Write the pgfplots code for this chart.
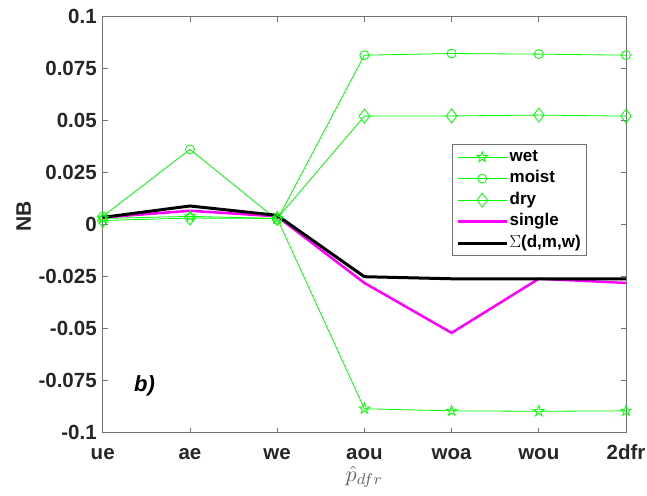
\documentclass[border=0pt]{standalone}
\usepackage{graphicx}
\usepackage{fontspec}
\setmainfont{Liberation Sans}
\usepackage{pgfplots}
\pgfplotsset{compat=1.18}
\definecolor{mgreen}{rgb}{0,1,0}
\definecolor{mmag}{rgb}{1,0,1}
\definecolor{axgray}{gray}{0.45}
\definecolor{lblgray}{gray}{0.15}
\definecolor{xlgray}{gray}{0.4}
\pgfdeclareplotmark{pstar}{%
  \pgfpathmoveto{\pgfpointpolar{90}{\pgfplotmarksize}}%
  \pgfpathlineto{\pgfpointpolar{126}{0.382\pgfplotmarksize}}%
  \pgfpathlineto{\pgfpointpolar{162}{\pgfplotmarksize}}%
  \pgfpathlineto{\pgfpointpolar{198}{0.382\pgfplotmarksize}}%
  \pgfpathlineto{\pgfpointpolar{234}{\pgfplotmarksize}}%
  \pgfpathlineto{\pgfpointpolar{270}{0.382\pgfplotmarksize}}%
  \pgfpathlineto{\pgfpointpolar{306}{\pgfplotmarksize}}%
  \pgfpathlineto{\pgfpointpolar{342}{0.382\pgfplotmarksize}}%
  \pgfpathlineto{\pgfpointpolar{18}{\pgfplotmarksize}}%
  \pgfpathlineto{\pgfpointpolar{54}{0.382\pgfplotmarksize}}%
  \pgfpathclose
  \pgfusepathqstroke
}
\begin{document}
\begin{tikzpicture}
\begin{axis}[
  at={(0,0)}, anchor=south west,
  scale only axis, width=523.3pt, height=416pt,
  xmin=0, xmax=6, ymin=-0.1, ymax=0.1,
  xtick={0,1,2,3,4,5,6},
  xticklabels={ue,ae,we,aou,woa,wou,2dfr},
  ytick={-0.1,-0.075,-0.05,-0.025,0,0.025,0.05,0.075,0.1},
  yticklabels={-0.1,-0.075,-0.05,-0.025,0,0.025,0.05,0.075,0.1},
  scaled y ticks=false,
  tick align=inside, major tick length=5pt, tick pos=both,
  axis line style={axgray, line width=0.8pt},
  tick style={axgray, line width=0.8pt},
  ticklabel style={font=\fontsize{20.5}{22}\selectfont\bfseries, text=lblgray},
  yticklabel style={xshift=-2.5pt},
  xticklabel style={anchor=base, yshift=-26.5pt, inner sep=1pt},
  xlabel={\scalebox{2.2}{$\hat{p}_{dfr}$}},
  xlabel style={at={(axis description cs:0.5,-0.1055)}, anchor=center, inner sep=0pt, font=\normalsize, text=xlgray},
  ylabel={NB},
  ylabel style={at={(axis description cs:-0.151,0.52)}, anchor=center, rotate=0, font=\fontsize{21}{23}\selectfont\bfseries, text=lblgray},
  legend style={at={(axis description cs:0.667,0.694)}, anchor=north west,
    draw=axgray, line width=0.8pt, fill=white,
    font=\fontsize{17}{19}\selectfont\bfseries, text=black,
    nodes={inner sep=1.5pt, text height=12.5pt, text depth=4pt},
    row sep=2pt, inner xsep=4pt, inner ysep=3pt},
  legend cell align=left,
  legend image code/.code={\draw[mark repeat=2,mark phase=2,#1] plot coordinates {(0pt,0pt)(24.5pt,0pt)(49pt,0pt)};},
]
\addplot[mgreen, line width=0.8pt, mark=pstar, mark size=5.5pt, mark options={solid, line width=0.8pt}] coordinates {
(0,0.003) (1,0.004) (2,0.003) (3,-0.0885) (4,-0.0895) (5,-0.0897) (6,-0.0895)};
\addlegendentry{wet}
\addplot[mgreen, line width=0.8pt, mark=o, mark size=4.5pt, mark options={solid, line width=0.8pt}] coordinates {
(0,0.004) (1,0.0362) (2,0.0023) (3,0.0815) (4,0.0823) (5,0.082) (6,0.0815)};
\addlegendentry{moist}
\addplot[mgreen, line width=0.8pt, mark=diamond, mark size=7pt, mark options={solid, line width=0.8pt}] coordinates {
(0,0.002) (1,0.0032) (2,0.003) (3,0.0522) (4,0.0523) (5,0.0527) (6,0.0522)};
\addlegendentry{dry}
\addplot[mmag, line width=2.5pt, no marks] coordinates {
(0,0.0035) (1,0.0067) (2,0.004) (3,-0.028) (4,-0.052) (5,-0.026) (6,-0.028)};
\addlegendentry{single}
\addplot[black, line width=3pt, no marks] coordinates {
(0,0.0035) (1,0.009) (2,0.0045) (3,-0.025) (4,-0.026) (5,-0.026) (6,-0.026)};
\addlegendentry{$\Sigma$(d,m,w)}
\node[font=\fontsize{22}{24}\selectfont\bfseries\itshape, text=black] at (axis cs:0.48,-0.0776) {b)};
\end{axis}
\pgfresetboundingbox
\path (-102.7pt,-62.3pt) rectangle (544.3pt,432.7pt);
\end{tikzpicture}
\end{document}
